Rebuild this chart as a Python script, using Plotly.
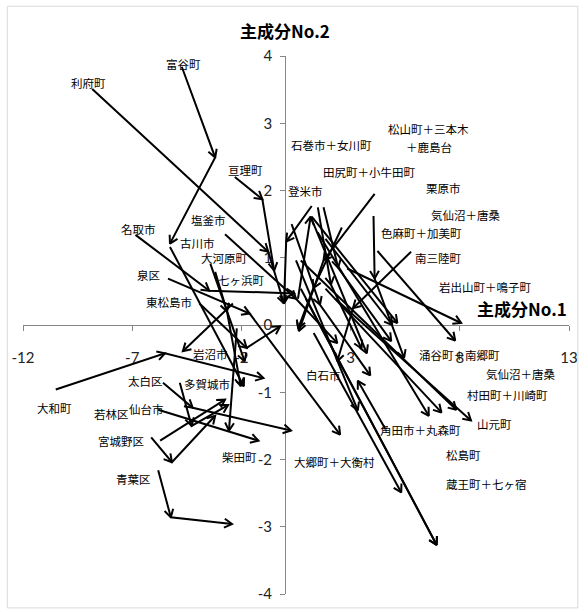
import math
import plotly.graph_objects as go

# Trajectories of municipalities on the principal-component plane
path_names = [
    "利府町", "富谷町", "亘理町", "名取市", "塩釜市", "古川市", "大河原町", "七ヶ浜町",
    "泉区", "東松島市", "岩沼市", "太白区", "多賀城市", "仙台市", "若林区", "宮城野区",
    "柴田町", "大和町", "青葉区",
    "登米市", "石巻市＋女川町", "田尻町＋小牛田町", "栗原市", "色麻町＋加美町",
    "岩出山町＋鳴子町", "南三陸町", "松山町＋三本木＋鹿島台", "気仙沼＋唐桑",
    "涌谷町＋南郷町", "村田町＋川崎町", "山元町", "白石市", "角田市＋丸森町",
    "蔵王町＋七ヶ宿", "大郷町＋大衡村", "松島町", "気仙沼＋唐桑(2)", "白石市(2)",
    "石巻市(2)", "登米市(2)", "栗原市(2)",
]
path_x = [
    [-8.83, -0.77, -0.05], [-4.73, -3.20, -5.27], [-2.30, -1.04, -0.50],
    [-6.85, -3.47, 0.41], [-2.75, 0.50, 2.39], [-5.27, -1.89], [-3.42, -1.85],
    [-3.20, -2.66, -2.03], [-5.36, -1.62, 2.52], [-3.92, -1.76, -0.23],
    [-2.39, -4.68], [-5.59, -4.23, 0.27], [-4.82, -4.28, -2.61], [-5.81, -1.22],
    [-5.72, -2.75], [-6.13, -5.18, -3.20], [-2.21, -2.57], [-10.50, -5.50, -0.99],
    [-5.81, -5.23, -2.43],
    [1.22, 0.05, -0.05], [0.59, 1.17, 3.74], [4.10, 1.76, 0.63], [4.05, 4.10, 5.45],
    [4.23, 7.79], [2.84, 8.06], [5.77, 3.11, 2.39], [1.22, 5.14], [0.72, 7.84],
    [1.49, 6.58], [1.85, 7.16], [2.30, 8.51], [0.50, 3.33], [0.95, 6.94],
    [0.72, 6.94], [1.31, 5.32], [1.85, 4.91], [1.76, 2.43, 4.86], [4.60, 3.33],
    [1.50, 2.10, 3.50], [0.30, 1.60, 3.90], [2.60, 1.30, 0.60],
]
path_y = [
    [3.51, 1.09, 0.32], [3.84, 2.49, 1.21], [2.20, 1.87, 0.81],
    [1.34, 0.51, 0.47], [1.35, 0.39, -0.27], [1.16, -0.91], [0.91, -0.54],
    [0.79, 0.20, -0.91], [0.69, 0.17, -1.63], [0.32, -0.34, -0.02],
    [0.32, -0.39], [-0.86, -1.23, -1.57], [-0.86, -1.50, -1.19], [-1.26, -1.72],
    [-1.72, -1.11], [-1.67, -2.04, -1.35], [-0.05, -1.57], [-0.96, -0.42, -0.79],
    [-2.16, -2.86, -2.96],
    [1.77, 1.24, 0.32], [0.39, 1.61, -0.42], [1.95, 0.96, -0.09], [1.62, 0.69, -0.49],
    [1.10, -0.23], [0.84, 0.03], [1.09, 0.25, -0.54], [1.61, 0.03], [0.96, -1.26],
    [1.38, -1.35], [0.54, -1.30], [0.39, -1.42], [0.96, -1.27], [0.39, -3.27],
    [0.54, -3.27], [-0.12, -2.49], [1.28, 0.00], [1.75, 0.85, -0.24], [-1.55, -0.83],
    [1.75, 0.60, -0.35], [1.50, 0.30, -0.75], [1.45, 0.55, -0.05],
]

# Name labels
label_text = [
    "富谷町", "利府町", "亘理町", "石巻市＋女川町", "松山町＋三本木", "＋鹿島台",
    "田尻町＋小牛田町", "登米市", "栗原市", "気仙沼＋唐桑", "色麻町＋加美町", "南三陸町",
    "岩出山町＋鳴子町", "涌谷町＋南郷町", "気仙沼＋唐桑", "村田町＋川崎町", "白石市",
    "山元町", "角田市＋丸森町", "大郷町＋大衡村", "松島町", "蔵王町＋七ヶ宿",
    "名取市", "塩釜市", "古川市", "大河原町", "七ヶ浜町", "泉区", "東松島市", "岩沼市",
    "太白区", "多賀城市", "大和町", "若林区", "仙台市", "宮城野区", "柴田町", "青葉区",
]
label_x = [
    -4.64, -9.01, -1.80, 2.12, 6.58, 6.58,
    3.83, 0.95, 7.25, 8.24, 6.26, 7.03,
    9.14, 7.97, 10.77, 10.18, 1.76,
    9.59, 6.22, 2.25, 8.15, 9.23,
    -6.71, -3.51, -4.01, -2.79, -1.98, -6.26, -5.32, -3.42,
    -6.40, -3.56, -10.54, -7.93, -6.35, -7.52, -2.10, -6.94,
]
label_y = [
    3.88, 3.60, 2.31, 2.68, 2.91, 2.64,
    2.28, 2.00, 2.03, 1.64, 1.37, 1.00,
    0.56, -0.45, -0.73, -1.04, -0.74,
    -1.47, -1.56, -2.03, -1.94, -2.37,
    1.43, 1.56, 1.22, 1.00, 0.67, 0.75, 0.34, -0.43,
    -0.83, -0.88, -1.23, -1.32, -1.25, -1.72, -1.97, -2.29,
]

x_ticks = [-12, -7, -2, 3, 8, 13]
x_ticktext = ["-12", "-7", "-2", "3", "8", "13"]
y_ticks = [-4, -3, -2, -1, 0, 1, 2, 3, 4]
y_ticktext = ["-4", "-3", "-2", "-1", "0", "1", "2", "3", "4"]

W, H = 588, 612
M = dict(l=23, r=10, t=56, b=15)
X_RANGE = [-12, 13]
Y_RANGE = [-4, 4]
sx = (W - M["l"] - M["r"]) / (X_RANGE[1] - X_RANGE[0])
sy = (H - M["t"] - M["b"]) / (Y_RANGE[1] - Y_RANGE[0])

HEAD_LEN = 9.0
HEAD_ANG = math.radians(30)

seg_x, seg_y, head_x, head_y = [], [], [], []
for xs, ys in zip(path_x, path_y):
    seg_x += xs + [None]
    seg_y += ys + [None]
    for i in range(1, len(xs)):
        dxp = (xs[i] - xs[i - 1]) * sx
        dyp = (ys[i] - ys[i - 1]) * sy
        n = math.hypot(dxp, dyp)
        ux, uy = -dxp / n, -dyp / n
        wings = []
        for s in (1, -1):
            c, si = math.cos(s * HEAD_ANG), math.sin(s * HEAD_ANG)
            wx = (ux * c - uy * si) * HEAD_LEN
            wy = (ux * si + uy * c) * HEAD_LEN
            wings.append((xs[i] + wx / sx, ys[i] + wy / sy))
        head_x += [wings[0][0], xs[i], wings[1][0], None]
        head_y += [wings[0][1], ys[i], wings[1][1], None]

fig = go.Figure()
fig.add_trace(go.Scatter(x=seg_x, y=seg_y, mode="lines",
                         line=dict(color="black", width=2), hoverinfo="skip",
                         showlegend=False))
fig.add_trace(go.Scatter(x=head_x, y=head_y, mode="lines",
                         line=dict(color="black", width=2), hoverinfo="skip",
                         showlegend=False))

cjk = "Noto Sans CJK JP"
annotations = []
for t, x, y in zip(label_text, label_x, label_y):
    annotations.append(dict(x=x, y=y, xref="x", yref="y", text=t, showarrow=False,
                            xanchor="center", yanchor="middle",
                            font=dict(family=cjk, size=11.5, color="black")))
annotations.append(dict(x=0, y=1 + 26 / (H - M["t"] - M["b"]), xref="x", yref="paper",
                        text="<b>主成分No.2</b>", showarrow=False,
                        xanchor="center", yanchor="middle",
                        font=dict(family=cjk, size=17, color="black")))
annotations.append(dict(x=13, y=0.25, xref="x", yref="y",
                        text="<b>主成分No.1</b>", showarrow=False,
                        xanchor="right", yanchor="middle",
                        font=dict(family=cjk, size=17, color="black")))

axis_common = dict(showgrid=False, zeroline=False, showline=True, linecolor="#868686",
                   linewidth=1, ticks="outside", ticklen=5, tickcolor="#868686",
                   tickfont=dict(family="Lato", size=15, color="#222"),
                   anchor="free", layer="below traces", fixedrange=True)

fig.update_layout(
    width=W, height=H, margin=M,
    paper_bgcolor="white", plot_bgcolor="white",
    xaxis=dict(range=X_RANGE, tickvals=x_ticks, ticktext=x_ticktext, position=0.5,
               ticklabelstandoff=14, **axis_common),
    yaxis=dict(range=Y_RANGE, tickvals=y_ticks, ticktext=y_ticktext, position=12 / 25,
               ticklabelstandoff=5, **axis_common),
    annotations=annotations,
    shapes=[dict(type="rect", xref="paper", yref="paper",
                 x0=(7 - M["l"]) / (W - M["l"] - M["r"]),
                 x1=(587 - M["l"]) / (W - M["l"] - M["r"]),
                 y0=(H - M["b"] - 611) / (H - M["t"] - M["b"]),
                 y1=(H - M["b"] - 6) / (H - M["t"] - M["b"]),
                 line=dict(color="#d9d9d9", width=1))],
)

fig.write_html("out.html")
